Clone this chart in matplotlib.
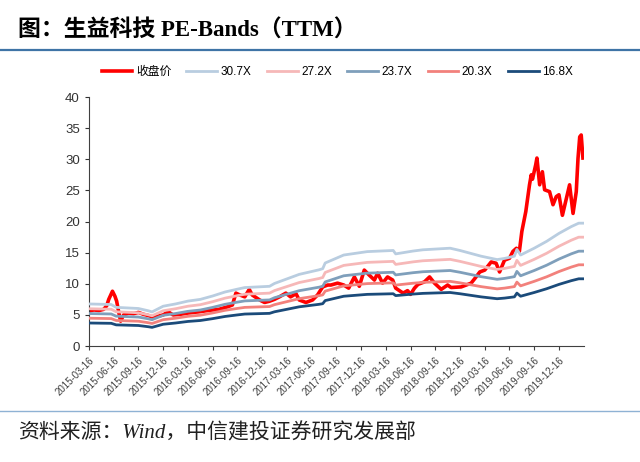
import matplotlib
matplotlib.use('Agg')
import matplotlib.pyplot as plt
from matplotlib.lines import Line2D

plt.rcParams['font.family'] = ['Liberation Sans', 'Noto Sans CJK SC']

# x positions are in quarters counted from 2015-03-16 (one tick per quarter)
tick_labels = ['2015-03-16', '2015-06-16', '2015-09-16', '2015-12-16',
               '2016-03-16', '2016-06-16', '2016-09-16', '2016-12-16',
               '2017-03-16', '2017-06-16', '2017-09-16', '2017-12-16',
               '2018-03-16', '2018-06-16', '2018-09-16', '2018-12-16',
               '2019-03-16', '2019-06-16', '2019-09-16', '2019-12-16']

# the 16.8X line; the other bands scale with the multiple
base_q = [0.0, 0.9, 1.1, 2.0, 2.4, 2.55, 3.0, 3.5, 4.0, 4.5, 5.0, 5.5, 6.0,
          6.3, 7.3, 7.5, 8.0, 8.5, 9.3, 9.45, 9.55, 10.3, 11.25, 12.3, 12.4,
          13.1, 13.5, 14.6, 15.0, 15.85, 16.5, 16.8, 17.2, 17.3, 17.45, 18.0,
          18.5, 19.0, 19.5, 19.8, 20.0]
base_168 = [3.7, 3.65, 3.4, 3.3, 3.1, 3.0, 3.5, 3.7, 3.95, 4.1, 4.4, 4.75, 5.0,
            5.14, 5.25, 5.5, 5.9, 6.3, 6.7, 6.8, 7.3, 8.0, 8.3, 8.4, 8.1,
            8.35, 8.46, 8.6, 8.4, 7.9, 7.6, 7.7, 7.9, 8.5, 8.0, 8.6,
            9.2, 9.9, 10.5, 10.8, 10.8]
multiples = [30.7, 27.2, 23.7, 20.3, 16.8]
band_names = ['30.7X', '27.2X', '23.7X', '20.3X', '16.8X']
band_colors = ['#b9cde0', '#f6b8b8', '#7f9fbb', '#f2817c', '#1b4b7a']

price_q = [0.0, 0.2, 0.4, 0.6, 0.72, 0.8, 0.95, 1.05, 1.12, 1.2, 1.28, 1.4,
           1.6, 1.8, 2.0, 2.2, 2.4, 2.6, 2.8, 3.0, 3.2, 3.4, 3.7, 4.0, 4.45,
           4.8, 5.26, 5.6, 5.8, 5.94, 6.1, 6.3, 6.48, 6.6, 6.9, 7.1, 7.3, 7.5,
           7.7, 7.96, 8.15, 8.37, 8.5, 8.77, 9.04, 9.24, 9.45, 9.65, 9.78,
           10.05, 10.3, 10.5, 10.73, 10.93, 11.13, 11.33, 11.54, 11.67, 11.87,
           12.07, 12.28, 12.4, 12.7, 12.88, 13.0, 13.16, 13.3, 13.56, 13.77,
           13.97, 14.24, 14.5, 14.64, 15.05, 15.45, 15.65, 15.8, 16.0, 16.26,
           16.46, 16.6, 16.8, 17.0, 17.14, 17.28, 17.4, 17.5, 17.58, 17.66,
           17.81, 17.88, 17.93, 18.06, 18.11, 18.22, 18.33, 18.42, 18.62,
           18.76, 18.89, 19.0, 19.14, 19.3, 19.43, 19.57, 19.7, 19.77, 19.84,
           19.9, 19.97]
price = [5.6, 5.8, 5.7, 5.9, 6.5, 7.5, 8.8, 8.0, 7.2, 5.5, 4.0, 5.0,
         5.3, 5.2, 5.4, 5.1, 4.9, 4.6, 4.8, 5.0, 5.5, 5.0, 5.1, 5.3, 5.5,
         5.7, 5.9, 6.3, 6.6, 8.5, 8.2, 7.9, 9.1, 8.2, 7.4, 7.0, 7.2, 7.5,
         7.9, 8.5, 7.9, 8.4, 7.4, 7.0, 7.4, 8.2, 9.5, 9.8, 9.8,
         10.1, 9.8, 9.3, 11.1, 9.6, 12.2, 11.4, 10.6, 11.7, 10.1,
         11.1, 10.6, 9.3, 8.5, 8.9, 8.3, 9.3, 9.9, 10.3, 11.1,
         10.1, 9.1, 9.8, 9.4, 9.5, 10.1, 11.1, 11.9, 12.2, 13.5,
         13.3, 11.9, 13.8, 14.1, 15.2, 15.7, 15.2, 18.4, 20.0, 21.6,
         25.9, 27.5, 26.8, 29.1, 30.2, 25.9, 28.0, 25.1, 24.8,
         22.7, 24.0, 24.3, 21.0, 23.7, 25.9, 21.3, 24.8, 30.1, 33.6,
         33.9, 30.2]

fig = plt.figure(figsize=(6.4, 4.62), dpi=100)
ax = fig.add_axes([0.139, 0.251, 0.773, 0.539])

ax.plot(price_q, price, color='#ff0000', lw=2.6, zorder=2, label='收盘价')
for m, name, c in zip(multiples, band_names, band_colors):
    ax.plot(base_q, [v * m / 16.8 for v in base_168], color=c, lw=2.0,
            zorder=3, label=name)

ax.set_xlim(0, 20)
ax.set_ylim(0, 40)
ax.set_yticks(range(0, 41, 5))
ax.set_xticks(range(len(tick_labels)))
ax.set_xticklabels(tick_labels, rotation=45, ha='right',
                   rotation_mode='anchor', fontsize=7, color='#404040')
ax.tick_params(axis='y', labelsize=9.5, colors='#333333', length=3)
ax.tick_params(axis='x', length=3, color='#404040')
for s in ['top', 'right']:
    ax.spines[s].set_visible(False)
for s in ['left', 'bottom']:
    ax.spines[s].set_color('#404040')

fig.legend(loc='center', bbox_to_anchor=(0.527, 1 - 72 / 462), ncol=6,
           frameon=False, fontsize=8.5, handlelength=2.6, columnspacing=1.3,
           handletextpad=0.3)

fig.text(18 / 640, 1 - 31 / 462, '图：生益科技 PE-Bands（TTM）', fontsize=16.5,
         fontweight='bold', va='center',
         family=['Liberation Serif', 'Noto Sans CJK SC'])
fig.add_artist(Line2D([0, 1], [1 - 50 / 462] * 2, color='#3f74a6', lw=1.6))
fig.add_artist(Line2D([0, 1], [1 - 411 / 462] * 2, color='#8fb2d4', lw=1.0))
fig.text(18 / 640, 1 - 433 / 462, '资料来源：Wind，中信建投证券研究发展部',
         fontsize=15, style='italic', va='center', color='#202020',
         family=['Liberation Serif', 'Noto Sans CJK SC'])

fig.savefig('out.png', dpi=100)
